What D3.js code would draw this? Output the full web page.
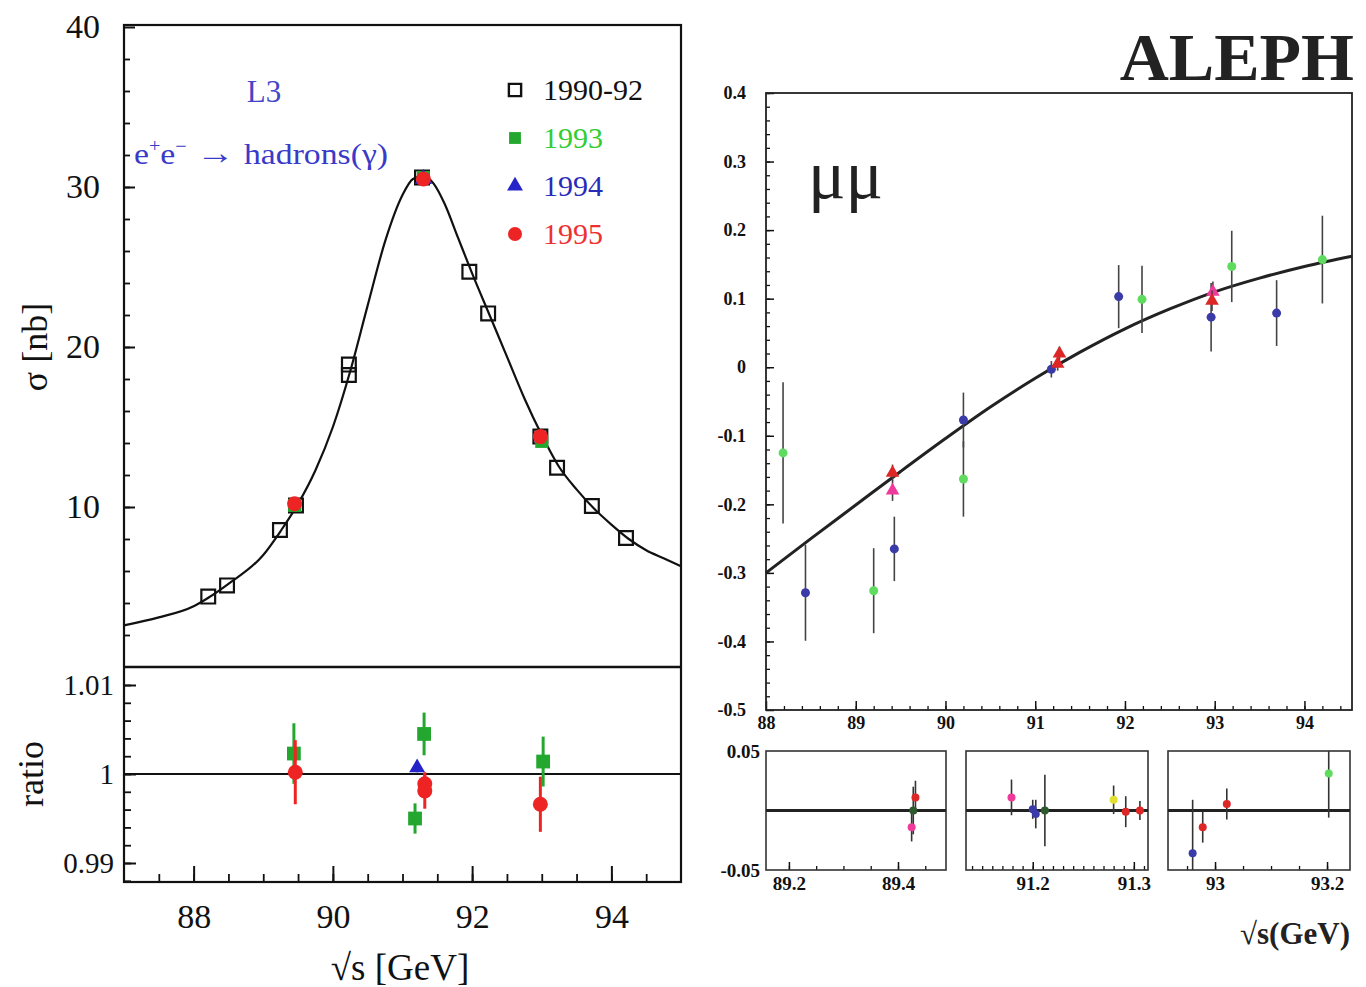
<!DOCTYPE html>
<html>
<head>
<meta charset="utf-8">
<script src="https://cdn.jsdelivr.net/npm/d3@7"></script>
<style>
  body { margin: 0; background: #fff; }
  svg { display: block; }
  text { font-family: "Liberation Serif", "Times New Roman", serif; }
</style>
</head>
<body>
<svg id="chart" width="1366" height="987"></svg>
<script>
// ---- L3 hadronic lineshape (left) ----
const l3Years = ["1990-92", "1993", "1994", "1995"];

const fitE = [87.0, 87.5, 88.0, 88.2, 88.5, 89.0, 89.25, 89.5, 89.75, 90.0, 90.25, 90.5, 90.75, 91.0, 91.15, 91.3, 91.45, 91.6, 91.8, 92.0, 92.25, 92.5, 92.75, 93.0, 93.25, 93.5, 93.75, 94.0, 94.25, 94.5, 94.75, 95.0];
const fitSigma = [2.6, 3.1, 3.8, 4.3, 5.2, 7.0, 8.5, 10.2, 12.3, 15.0, 18.5, 22.6, 26.6, 29.5, 30.5, 30.7, 30.2, 29.0, 26.8, 24.6, 22.0, 19.4, 16.8, 14.5, 12.5, 11.1, 9.9, 8.9, 8.0, 7.3, 6.8, 6.3];

const y9092E = [88.21, 88.48, 89.24, 89.47, 90.23, 90.23, 91.28, 91.96, 92.23, 92.98, 93.22, 93.72, 94.21];
const y9092Sigma = [4.4, 5.1, 8.56, 10.1, 18.9, 18.25, 30.6, 24.7, 22.1, 14.4, 12.45, 10.06, 8.06];
const y93E = [89.45, 91.30, 93.00];
const y93Sigma = [10.1, 30.6, 14.1];
const y94E = [91.30];
const y94Sigma = [30.5];
const y95E = [89.45, 91.30, 92.98];
const y95Sigma = [10.2, 30.5, 14.4];

// data / fit ratio
const r93E = [89.44, 91.18, 91.31, 93.02];
const r93 = [1.0023, 0.9950, 1.0045, 1.0014];
const r93Err = [0.0034, 0.0017, 0.0024, 0.0028];
const r94E = [91.21];
const r94 = [1.0007];
const r94Err = [0.0005];
const r95E = [89.46, 91.32, 91.32, 92.98];
const r95 = [1.0002, 0.9989, 0.9981, 0.9966];
const r95Err = [0.0036, 0.0013, 0.0020, 0.0031];

// ---- ALEPH mu mu forward-backward asymmetry (right) ----
const afbFitE = [88.0, 88.5, 89.0, 89.5, 90.0, 90.5, 91.0, 91.5, 92.0, 92.5, 93.0, 93.5, 94.0, 94.53];
const afbFit = [-0.300, -0.250, -0.201, -0.152, -0.104, -0.058, -0.016, 0.022, 0.056, 0.085, 0.110, 0.130, 0.147, 0.162];

const afbSetA_E = [88.19, 89.20, 90.20, 92.19, 93.19, 94.20];
const afbSetA = [-0.125, -0.326, -0.163, 0.099, 0.147, 0.157];
const afbSetA_err = [0.103, 0.062, 0.055, 0.049, 0.052, 0.064];
const afbSetB_E = [88.44, 89.43, 90.20, 91.18, 91.93, 92.96, 93.69];
const afbSetB = [-0.329, -0.265, -0.077, -0.003, 0.103, 0.073, 0.079];
const afbSetB_err = [0.070, 0.047, 0.040, 0.012, 0.046, 0.050, 0.048];
const afbSetC_E = [89.41, 91.25, 91.27, 92.97];
const afbSetC = [-0.154, 0.005, 0.020, 0.097];
const afbSetC_err = [0.012, 0.010, 0.010, 0.015];
const afbSetD_E = [89.41, 92.98];
const afbSetD = [-0.180, 0.110];
const afbSetD_err = [0.015, 0.015];

// deviation panels (three energy windows)
const devPanelDomains = [[89.158, 89.488], [91.134, 91.314], [92.916, 93.241]];
const devPanelMajor = [[89.2, 89.4], [91.2, 91.3], [93, 93.2]];
const devPanelMinorStep = [0.05, 0.01, 0.05];
const devE = [
  [89.425, 89.428, 89.432],
  [91.179, 91.200, 91.203, 91.212, 91.280, 91.292, 91.306],
  [92.960, 92.978, 93.021, 93.203]
];
const devVal = [
  [-0.014, 0.0, 0.011],
  [0.011, 0.001, -0.003, 0.0, 0.009, -0.001, 0.0],
  [-0.036, -0.014, 0.0055, 0.031]
];
const devErr = [
  [0.012, 0.020, 0.014],
  [0.015, 0.008, 0.012, 0.030, 0.012, 0.013, 0.008],
  [0.045, 0.013, 0.013, 0.037]
];
const devSet = [
  ["D", "E", "C"],
  ["D", "B", "B", "E", "F", "C", "C"],
  ["B", "C", "C", "A"]
];

const setColor = { A: "#5fdc5f", B: "#3a3aa8", C: "#dd2626", D: "#ee3a9a", E: "#2d5a2d", F: "#e0e030" };

const svg = d3.select("#chart");
const serif = "'Liberation Serif', 'Times New Roman', serif";

function styleAxis(g, size, weight, width) {
  g.select(".domain").remove();
  g.selectAll("line").attr("stroke", "#111").attr("stroke-width", width);
  g.selectAll("text").attr("fill", "#111");
  g.attr("font-family", serif).attr("font-size", size).attr("font-weight", weight);
}

// ================= LEFT: L3 =================
const xL = d3.scaleLinear().domain([87, 95]).range([124, 681]);
const ySig = d3.scaleLinear().domain([0, 40]).range([667, 27]);
const yRat = d3.scaleLinear().domain([0.99, 1.01]).range([863, 685]);
const leftTop = 25, leftBottom = 882, leftSplit = ySig(0);

const left = svg.append("g");

// ticks
left.append("g").attr("transform", `translate(${xL.range()[0]},0)`)
  .call(d3.axisLeft(ySig).tickValues(d3.range(2, 40, 2)).tickSize(-6).tickFormat(""))
  .call(g => styleAxis(g, 10, "normal", 1.8));
left.append("g").attr("transform", `translate(${xL.range()[0]},0)`)
  .call(d3.axisLeft(ySig).tickValues([10, 20, 30, 40]).tickSize(-11).tickPadding(24).tickFormat(d3.format("d")))
  .call(g => styleAxis(g, 34, "normal", 2));
left.append("g").attr("transform", `translate(${xL.range()[0]},0)`)
  .call(d3.axisLeft(yRat).tickValues(d3.range(0.988, 1.0115, 0.002)).tickSize(-7).tickFormat(""))
  .call(g => styleAxis(g, 10, "normal", 1.8));
left.append("g").attr("transform", `translate(${xL.range()[0]},0)`)
  .call(d3.axisLeft(yRat).tickValues([0.99, 1, 1.01]).tickSize(-12).tickPadding(10).tickFormat(d => String(d)))
  .call(g => styleAxis(g, 29, "normal", 2));
left.append("g").attr("transform", `translate(0,${leftBottom})`)
  .call(d3.axisBottom(xL).tickValues(d3.range(87.5, 95, 0.5)).tickSize(-8).tickFormat(""))
  .call(g => styleAxis(g, 10, "normal", 1.8));
left.append("g").attr("transform", `translate(0,${leftBottom})`)
  .call(d3.axisBottom(xL).tickValues([88, 90, 92, 94]).tickSize(-16).tickPadding(22).tickFormat(d3.format("d")))
  .call(g => styleAxis(g, 34, "normal", 2));

// frame
left.append("rect")
  .attr("x", xL.range()[0]).attr("y", leftTop)
  .attr("width", xL.range()[1] - xL.range()[0]).attr("height", leftBottom - leftTop)
  .attr("fill", "none").attr("stroke", "#111").attr("stroke-width", 2.2);
left.append("line")
  .attr("x1", xL.range()[0]).attr("x2", xL.range()[1])
  .attr("y1", leftSplit).attr("y2", leftSplit)
  .attr("stroke", "#111").attr("stroke-width", 2.4);
left.append("line")
  .attr("x1", xL.range()[0]).attr("x2", xL.range()[1])
  .attr("y1", yRat(1)).attr("y2", yRat(1))
  .attr("stroke", "#111").attr("stroke-width", 2.2);

// fit curve
left.append("path")
  .datum(fitE.map((e, i) => [e, fitSigma[i]]))
  .attr("fill", "none").attr("stroke", "#111").attr("stroke-width", 2.2)
  .attr("d", d3.line().x(d => xL(d[0])).y(d => ySig(d[1])).curve(d3.curveMonotoneX));

const green = "#23a72f", blue = "#2424c8", red = "#ee2424";
const sq = d3.symbol().type(d3.symbolSquare);
const tri = d3.symbol().type(d3.symbolTriangle);

left.append("g").selectAll("path")
  .data(y9092E.map((e, i) => [e, y9092Sigma[i]]))
  .join("path")
  .attr("transform", d => `translate(${xL(d[0])},${ySig(d[1])})`)
  .attr("d", sq.size(190)())
  .attr("fill", "none").attr("stroke", "#111").attr("stroke-width", 2.2);
left.append("g").selectAll("path")
  .data(y93E.map((e, i) => [e, y93Sigma[i]]))
  .join("path")
  .attr("transform", d => `translate(${xL(d[0])},${ySig(d[1])})`)
  .attr("d", sq.size(170)()).attr("fill", green);
left.append("g").selectAll("path")
  .data(y94E.map((e, i) => [e, y94Sigma[i]]))
  .join("path")
  .attr("transform", d => `translate(${xL(d[0])},${ySig(d[1])})`)
  .attr("d", tri.size(130)()).attr("fill", blue);
left.append("g").selectAll("circle")
  .data(y95E.map((e, i) => [e, y95Sigma[i]]))
  .join("circle")
  .attr("cx", d => xL(d[0])).attr("cy", d => ySig(d[1])).attr("r", 7.5).attr("fill", red);

// ratio points
function ratioSeries(E, R, Err, color, kind) {
  const g = left.append("g");
  const pts = E.map((e, i) => ({ e, r: R[i], err: Err[i] }));
  g.selectAll("line").data(pts).join("line")
    .attr("x1", d => xL(d.e)).attr("x2", d => xL(d.e))
    .attr("y1", d => yRat(d.r - d.err)).attr("y2", d => yRat(d.r + d.err))
    .attr("stroke", color).attr("stroke-width", 3);
  if (kind === "circle") {
    g.selectAll("circle").data(pts).join("circle")
      .attr("cx", d => xL(d.e)).attr("cy", d => yRat(d.r)).attr("r", 7.5).attr("fill", color);
  } else {
    g.selectAll("path").data(pts).join("path")
      .attr("transform", d => `translate(${xL(d.e)},${yRat(d.r)})`)
      .attr("d", kind === "square" ? sq.size(190)() : tri.size(110)())
      .attr("fill", color);
  }
}
ratioSeries(r93E, r93, r93Err, green, "square");
ratioSeries(r94E, r94, r94Err, blue, "triangle");
ratioSeries(r95E, r95, r95Err, red, "circle");

// labels
left.append("text").attr("x", 264).attr("y", 102).attr("text-anchor", "middle")
  .attr("font-size", 31).attr("fill", "#4545c8").text("L3");
const proc = left.append("text").attr("x", 134).attr("y", 164)
  .attr("font-size", 30).attr("fill", "#3a3ac8")
  .attr("textLength", 254).attr("lengthAdjust", "spacingAndGlyphs");
proc.append("tspan").text("e");
proc.append("tspan").attr("font-size", 18).attr("dy", -12).text("+");
proc.append("tspan").attr("dy", 12).text("e");
proc.append("tspan").attr("font-size", 18).attr("dy", -12).text("\u2212");
proc.append("tspan").attr("dy", 12).attr("font-size", 34).text(" \u2192 ");
proc.append("tspan").text("hadrons(\u03b3)");

const legendColors = ["#111", "#33cc33", "#2a2ab8", "#ee3030"];
const legendY = d3.scalePoint().domain(l3Years).range([90, 234]);
const legend = left.append("g");
legend.selectAll("text").data(l3Years).join("text")
  .attr("x", 543).attr("y", d => legendY(d) + 10)
  .attr("font-size", 30).attr("fill", (d, i) => legendColors[i]).text(d => d);
legend.append("path").attr("transform", `translate(515,${legendY(l3Years[0])})`)
  .attr("d", sq.size(150)()).attr("fill", "none").attr("stroke", "#111").attr("stroke-width", 2.4);
legend.append("path").attr("transform", `translate(515,${legendY(l3Years[1])})`)
  .attr("d", sq.size(140)()).attr("fill", green);
legend.append("path").attr("transform", `translate(515,${legendY(l3Years[2])})`)
  .attr("d", tri.size(110)()).attr("fill", blue);
legend.append("circle").attr("cx", 515).attr("cy", legendY(l3Years[3])).attr("r", 7).attr("fill", red);

left.append("text").attr("transform", "translate(47,347) rotate(-90)")
  .attr("text-anchor", "middle").attr("font-size", 36).attr("fill", "#111").text("\u03c3 [nb]");
left.append("text").attr("transform", "translate(43,774) rotate(-90)")
  .attr("text-anchor", "middle").attr("font-size", 36).attr("fill", "#111").text("ratio");
left.append("text").attr("x", 400).attr("y", 980).attr("text-anchor", "middle")
  .attr("font-size", 37).attr("fill", "#111").text("\u221as [GeV]");

// ================= RIGHT: ALEPH =================
const xA = d3.scaleLinear().domain([88, 94.53]).range([766, 1352]);
const yA = d3.scaleLinear().domain([-0.5, 0.4]).range([710, 93]);
const right = svg.append("g");
const fmt1 = d => String(Math.round(d * 100) / 100);

right.append("g").attr("transform", `translate(${xA.range()[0]},0)`)
  .call(d3.axisLeft(yA).tickValues(d3.range(-24, 21).map(k => k * 0.02)).tickSize(-4).tickFormat(""))
  .call(g => styleAxis(g, 10, "normal", 1.3));
right.append("g").attr("transform", `translate(${xA.range()[0]},0)`)
  .call(d3.axisLeft(yA).tickValues(d3.range(-5, 5).map(k => k / 10)).tickSize(-8).tickPadding(20).tickFormat(fmt1))
  .call(g => styleAxis(g, 18, "bold", 1.5));
right.append("g").attr("transform", `translate(0,${yA.range()[0]})`)
  .call(d3.axisBottom(xA).tickValues(d3.range(1, 33).map(k => 88 + k * 0.2)).tickSize(-4).tickFormat(""))
  .call(g => styleAxis(g, 10, "normal", 1.3));
right.append("g").attr("transform", `translate(0,${yA.range()[0]})`)
  .call(d3.axisBottom(xA).tickValues(d3.range(88, 95)).tickSize(-9).tickPadding(6).tickFormat(d3.format("d")))
  .call(g => styleAxis(g, 18, "bold", 1.5));

right.append("rect")
  .attr("x", xA.range()[0]).attr("y", yA.range()[1])
  .attr("width", xA.range()[1] - xA.range()[0]).attr("height", yA.range()[0] - yA.range()[1])
  .attr("fill", "none").attr("stroke", "#222").attr("stroke-width", 1.8);

right.append("path")
  .datum(afbFitE.map((e, i) => [e, afbFit[i]]))
  .attr("fill", "none").attr("stroke", "#222").attr("stroke-width", 3)
  .attr("d", d3.line().x(d => xA(d[0])).y(d => yA(d[1])).curve(d3.curveMonotoneX));

function afbSeries(E, A, Err, set, kind) {
  const g = right.append("g");
  const pts = E.map((e, i) => ({ e, a: A[i], err: Err[i] }));
  g.selectAll("line").data(pts).join("line")
    .attr("x1", d => xA(d.e)).attr("x2", d => xA(d.e))
    .attr("y1", d => yA(d.a - d.err)).attr("y2", d => yA(d.a + d.err))
    .attr("stroke", "#444").attr("stroke-width", 1.6);
  if (kind === "triangle") {
    g.selectAll("path").data(pts).join("path")
      .attr("transform", d => `translate(${xA(d.e)},${yA(d.a)})`)
      .attr("d", tri.size(80)()).attr("fill", setColor[set]);
  } else {
    g.selectAll("circle").data(pts).join("circle")
      .attr("cx", d => xA(d.e)).attr("cy", d => yA(d.a)).attr("r", 4.5).attr("fill", setColor[set]);
  }
}
afbSeries(afbSetA_E, afbSetA, afbSetA_err, "A", "circle");
afbSeries(afbSetB_E, afbSetB, afbSetB_err, "B", "circle");
afbSeries(afbSetD_E, afbSetD, afbSetD_err, "D", "triangle");
afbSeries(afbSetC_E, afbSetC, afbSetC_err, "C", "triangle");

right.append("text").attr("x", 808).attr("y", 198)
  .attr("font-size", 70).attr("fill", "#222").text("\u03bc\u03bc");
right.append("text").attr("x", 1354).attr("y", 80).attr("text-anchor", "end")
  .attr("font-size", 68).attr("font-weight", "bold").attr("fill", "#222")
  .text("ALEPH");

// deviation panels
const panelX = [[766, 946], [966, 1148], [1168, 1350]];
const yDev = d3.scaleLinear().domain([-0.05, 0.05]).range([870, 751]);

devPanelDomains.forEach((dom, p) => {
  const x = d3.scaleLinear().domain(dom).range(panelX[p]);
  const g = right.append("g");
  const [lo, hi] = dom;
  const step = devPanelMinorStep[p];
  const minor = d3.range(Math.ceil(lo / step), Math.floor(hi / step) + 1).map(k => k * step);
  g.append("g").attr("transform", `translate(0,${yDev.range()[0]})`)
    .call(d3.axisBottom(x).tickValues(minor).tickSize(-4).tickFormat(""))
    .call(a => styleAxis(a, 10, "normal", 1.3));
  g.append("g").attr("transform", `translate(0,${yDev.range()[0]})`)
    .call(d3.axisBottom(x).tickValues(devPanelMajor[p]).tickSize(-8).tickPadding(7).tickFormat(d => String(d)))
    .call(a => styleAxis(a, 19, "bold", 1.5));
  g.append("rect")
    .attr("x", panelX[p][0]).attr("y", yDev.range()[1])
    .attr("width", panelX[p][1] - panelX[p][0]).attr("height", yDev.range()[0] - yDev.range()[1])
    .attr("fill", "none").attr("stroke", "#333").attr("stroke-width", 1.6);
  g.append("line")
    .attr("x1", panelX[p][0]).attr("x2", panelX[p][1])
    .attr("y1", yDev(0)).attr("y2", yDev(0))
    .attr("stroke", "#222").attr("stroke-width", 3);
  const pts = devE[p].map((e, i) => ({ e, v: devVal[p][i], err: devErr[p][i], set: devSet[p][i] }));
  g.selectAll(".eb").data(pts).join("line").attr("class", "eb")
    .attr("x1", d => x(d.e)).attr("x2", d => x(d.e))
    .attr("y1", d => yDev(Math.max(-0.05, d.v - d.err))).attr("y2", d => yDev(Math.min(0.05, d.v + d.err)))
    .attr("stroke", "#333").attr("stroke-width", 1.6);
  g.selectAll(".pt").data(pts).join("circle").attr("class", "pt")
    .attr("cx", d => x(d.e)).attr("cy", d => yDev(d.v)).attr("r", 4)
    .attr("fill", d => setColor[d.set]);
});

right.append("g").attr("transform", `translate(${panelX[0][0]},0)`)
  .call(d3.axisLeft(yDev).tickValues([-0.05, 0.05]).tickSize(0).tickPadding(6).tickFormat(d => String(d)))
  .call(a => styleAxis(a, 19, "bold", 1));

right.append("text").attr("x", 1350).attr("y", 944).attr("text-anchor", "end")
  .attr("font-size", 31).attr("font-weight", "bold").attr("fill", "#222").text("\u221as(GeV)");
</script>
</body>
</html>
